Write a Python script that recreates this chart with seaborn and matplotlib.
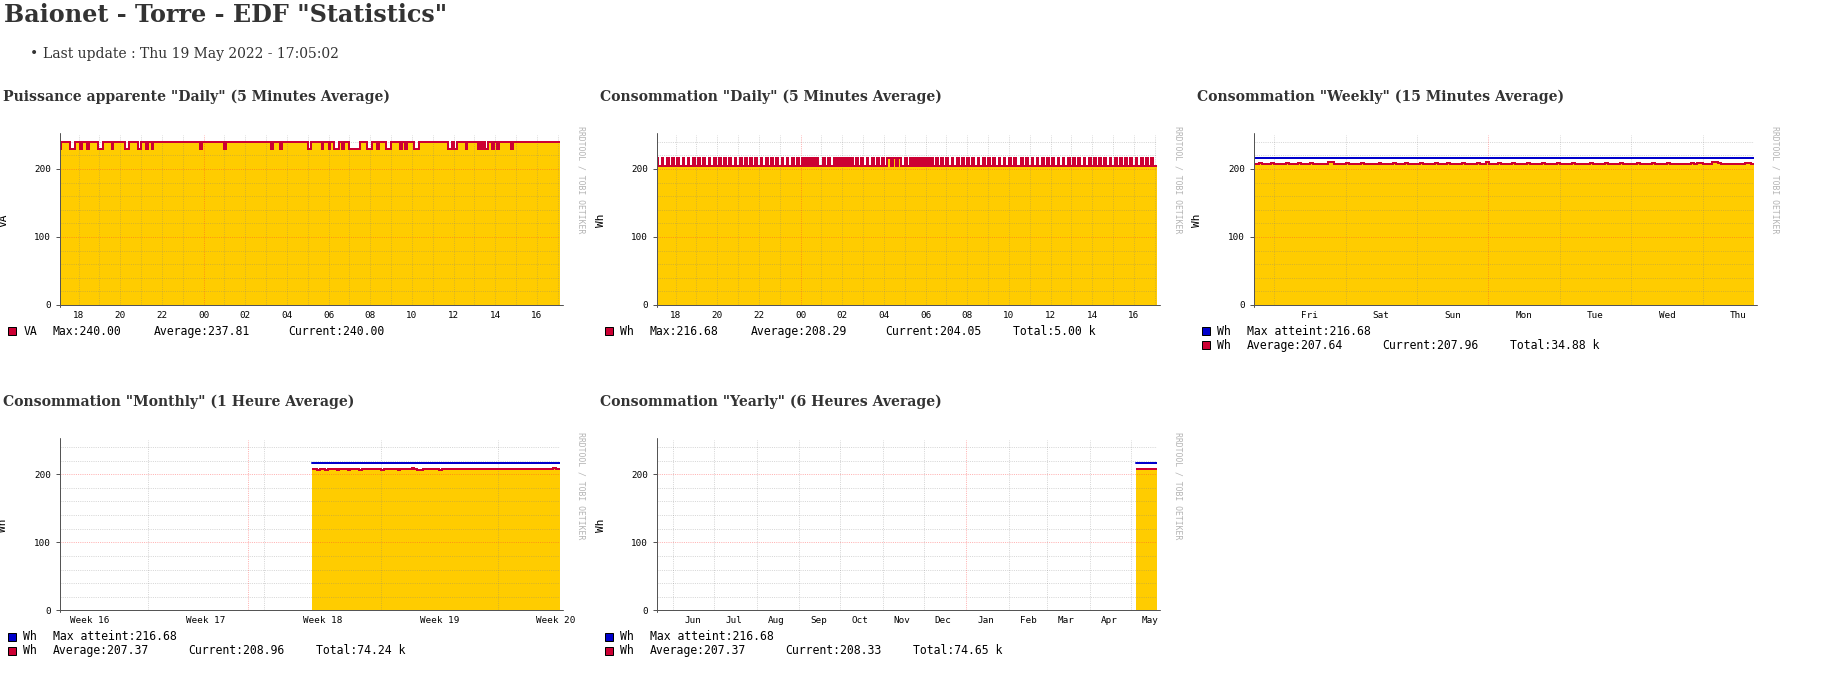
import matplotlib
matplotlib.use("Agg")
import matplotlib.pyplot as plt
import numpy as np
import pandas as pd
import seaborn as sns
from matplotlib.patches import Rectangle

sns.set_theme(style="white")
plt.rcParams["font.family"] = ["DejaVu Sans Mono", "DejaVu Sans"]

# ---------------------------------------------------------------- data
HEADER = 'Baionet - Torre - EDF "Statistics"'
UPDATE = "Last update : Thu 19 May 2022 - 17:05:02"
TITLES = ['Puissance apparente "Daily" (5 Minutes Average)',
          'Consommation "Daily" (5 Minutes Average)',
          'Consommation "Weekly" (15 Minutes Average)',
          'Consommation "Monthly" (1 Heure Average)',
          'Consommation "Yearly" (6 Heures Average)']

hour_labels = ["18", "20", "22", "00", "02", "04", "06", "08", "10", "12", "14", "16"]
day_labels = ["Fri", "Sat", "Sun", "Mon", "Tue", "Wed", "Thu"]
week_labels = ["Week 16", "Week 17", "Week 18", "Week 19", "Week 20"]
month_labels = ["Jun", "Jul", "Aug", "Sep", "Oct", "Nov", "Dec",
                "Jan", "Feb", "Mar", "Apr", "May"]

# apparent power, VA, 5-minute samples from 18 May 17:05
daily_va = [
    230, 240, 240, 240, 240, 240, 230, 230, 230, 240, 240, 240, 230, 240, 240, 240, 230, 240, 240, 240, 240, 240, 230, 230,
    230, 240, 240, 240, 240, 240, 230, 240, 240, 240, 240, 240, 240, 240, 230, 230, 240, 240, 240, 240, 240, 230, 230, 240,
    240, 240, 230, 240, 240, 230, 240, 240, 240, 240, 240, 240, 240, 240, 240, 240, 240, 240, 240, 240, 240, 240, 240, 240,
    240, 240, 240, 240, 240, 240, 240, 240, 240, 230, 240, 240, 240, 240, 240, 240, 240, 240, 240, 240, 240, 240, 240, 230,
    240, 240, 240, 240, 240, 240, 240, 240, 240, 240, 240, 240, 240, 240, 240, 240, 240, 240, 240, 240, 240, 240, 240, 240,
    240, 240, 230, 240, 240, 240, 240, 230, 240, 240, 240, 240, 240, 240, 240, 240, 240, 240, 240, 240, 240, 240, 240, 230,
    230, 240, 240, 240, 240, 240, 240, 230, 240, 240, 240, 230, 240, 240, 230, 230, 230, 240, 240, 230, 240, 240, 240, 230,
    230, 230, 230, 230, 230, 240, 240, 240, 240, 230, 230, 230, 240, 240, 240, 230, 240, 240, 240, 240, 230, 230, 230, 240,
    240, 240, 240, 240, 230, 240, 240, 230, 240, 240, 240, 240, 230, 230, 230, 240, 240, 240, 240, 240, 240, 240, 240, 240,
    240, 240, 240, 240, 240, 240, 240, 240, 230, 230, 240, 230, 230, 240, 240, 240, 240, 240, 230, 240, 240, 240, 240, 240,
    240, 230, 240, 230, 240, 230, 230, 240, 240, 230, 240, 240, 230, 240, 240, 240, 240, 240, 240, 240, 230, 240, 240, 240,
    240, 240, 240, 240, 240, 240, 240, 240, 240, 240, 240, 240, 240, 240, 240, 240, 240, 240, 240, 240, 240, 240, 240, 240,
]

# energy, Wh, 5-minute samples from 18 May 17:05
daily_wh = [
    216.7, 204.1, 204.1, 216.7, 204.1, 204.1, 216.7, 204.1, 204.1, 216.7, 204.1, 204.1, 216.7, 204.1, 204.1, 216.7, 204.1, 204.1, 216.7, 204.1, 204.1, 216.7, 204.1, 204.1,
    216.7, 204.1, 204.1, 216.7, 204.1, 204.1, 216.7, 204.1, 204.1, 216.7, 204.1, 204.1, 216.7, 204.1, 204.1, 216.7, 204.1, 204.1, 216.7, 204.1, 204.1, 216.7, 204.1, 204.1,
    216.7, 204.1, 204.1, 216.7, 204.1, 204.1, 216.7, 204.1, 204.1, 216.7, 204.1, 204.1, 216.7, 204.1, 204.1, 216.7, 204.1, 204.1, 216.7, 204.1, 204.1, 216.7, 204.1, 204.1,
    216.7, 204.1, 204.1, 216.7, 204.1, 204.1, 216.7, 204.1, 204.1, 216.7, 204.1, 204.1, 216.7, 204.1, 216.7, 204.1, 216.7, 204.1, 216.7, 204.1, 216.7, 204.1, 204.1, 204.1,
    216.7, 204.1, 204.1, 216.7, 204.1, 204.1, 216.7, 204.1, 216.7, 204.1, 216.7, 204.1, 216.7, 204.1, 216.7, 204.1, 216.7, 204.1, 204.1, 216.7, 204.1, 204.1, 216.7, 204.1,
    204.1, 216.7, 204.1, 204.1, 216.7, 204.1, 204.1, 216.7, 204.1, 204.1, 216.7, 204.1, 204.1, 216.7, 216.7, 204.1, 216.7, 216.7, 204.1, 216.7, 216.7, 204.1, 204.1, 216.7,
    204.1, 204.1, 216.7, 204.1, 216.7, 204.1, 216.7, 204.1, 216.7, 204.1, 216.7, 204.1, 216.7, 204.1, 216.7, 204.1, 204.1, 216.7, 204.1, 204.1, 216.7, 204.1, 204.1, 216.7,
    204.1, 204.1, 216.7, 204.1, 204.1, 216.7, 204.1, 204.1, 216.7, 204.1, 204.1, 216.7, 204.1, 204.1, 216.7, 204.1, 204.1, 216.7, 204.1, 204.1, 216.7, 204.1, 204.1, 216.7,
    204.1, 204.1, 216.7, 204.1, 204.1, 216.7, 204.1, 204.1, 216.7, 204.1, 204.1, 216.7, 204.1, 204.1, 216.7, 204.1, 204.1, 204.1, 216.7, 204.1, 204.1, 216.7, 204.1, 204.1,
    216.7, 204.1, 204.1, 216.7, 204.1, 204.1, 216.7, 204.1, 204.1, 216.7, 204.1, 204.1, 216.7, 204.1, 204.1, 216.7, 204.1, 204.1, 216.7, 204.1, 204.1, 216.7, 204.1, 204.1,
    216.7, 204.1, 204.1, 216.7, 204.1, 204.1, 216.7, 204.1, 204.1, 216.7, 204.1, 204.1, 216.7, 204.1, 204.1, 216.7, 204.1, 204.1, 216.7, 204.1, 204.1, 216.7, 204.1, 204.1,
    216.7, 204.1, 204.1, 216.7, 204.1, 204.1, 216.7, 204.1, 204.1, 216.7, 204.1, 204.1, 216.7, 204.1, 204.1, 216.7, 204.1, 204.1, 216.7, 204.1, 204.1, 216.7, 204.1, 204.1,
]

# weekly, hourly values from Thu 12 May 17:05
weekly_wh = [
    207.5, 207.5, 208.8, 207.5, 207.5, 207.5, 208.8, 207.5, 207.5, 207.5, 207.5, 208.8, 207.5, 207.5, 207.5, 208.8, 207.5, 207.5, 207.5, 208.8, 207.5, 207.5, 207.5, 207.5,
    207.5, 210.5, 210.0, 207.5, 207.5, 207.5, 207.5, 208.8, 207.5, 207.5, 207.5, 207.5, 208.8, 207.5, 207.5, 207.5, 207.5, 207.5, 208.8, 207.5, 207.5, 207.5, 207.5, 208.8,
    207.5, 207.5, 207.5, 208.8, 207.5, 207.5, 207.5, 207.5, 208.8, 207.5, 207.5, 207.5, 207.5, 208.8, 207.5, 207.5, 207.5, 208.8, 207.5, 207.5, 207.5, 207.5, 208.8, 207.5,
    207.5, 207.5, 207.5, 208.8, 207.5, 207.5, 210.0, 207.5, 207.5, 207.5, 208.8, 207.5, 207.5, 207.5, 207.5, 208.8, 207.5, 207.5, 207.5, 207.5, 208.8, 207.5, 207.5, 207.5,
    207.5, 208.8, 207.5, 207.5, 207.5, 207.5, 208.8, 207.5, 207.5, 207.5, 207.5, 208.8, 207.5, 207.5, 207.5, 207.5, 207.5, 208.8, 207.5, 207.5, 207.5, 207.5, 208.8, 207.5,
    207.5, 207.5, 207.5, 208.8, 207.5, 207.5, 207.5, 207.5, 207.5, 208.8, 207.5, 207.5, 207.5, 207.5, 208.8, 207.5, 207.5, 207.5, 207.5, 208.8, 207.5, 207.5, 207.5, 207.5,
    207.5, 207.5, 207.5, 209.2, 207.5, 209.5, 209.0, 207.5, 207.5, 207.5, 210.5, 210.5, 209.5, 207.5, 207.5, 207.5, 207.5, 207.5, 207.5, 207.5, 207.5, 209.5, 209.5, 208.0,
]

# monthly, 4-hour values from 4 May 20:00
monthly_wh = [
    208.5, 207.2, 206.2, 207.2, 207.2, 206.3,
    207.2, 207.2, 207.2, 206.4, 207.2, 207.2,
    207.2, 206.3, 207.2, 207.2, 207.3, 206.4,
    207.2, 207.2, 207.3, 207.2, 208.2, 207.2,
    207.2, 206.5, 207.2, 207.2, 208.0, 207.2,
    207.2, 206.4, 207.2, 207.2, 207.2, 208.3,
    209.0, 207.6, 206.4, 206.4, 207.2, 207.2,
    207.2, 207.2, 208.0, 207.2, 206.4, 207.2,
    207.2, 207.2, 207.2, 207.2, 207.3, 207.2,
    207.2, 207.2, 208.2, 207.2, 207.2, 207.2,
    207.2, 207.2, 207.2, 207.2, 207.2, 207.2,
    207.2, 207.2, 207.2, 207.2, 207.3, 207.2,
    207.2, 207.2, 207.2, 207.2, 207.2, 207.2,
    207.2, 207.2, 207.2, 207.2, 207.2, 207.2,
    207.2, 207.2, 208.2, 209.0, 207.6, 207.2,
]

# yearly, 6-hour values from 4 May 18:00
yearly_wh = [
    207.4, 207.3, 207.3, 207.4, 207.3, 207.4, 207.3, 207.3, 207.4, 207.3,
    207.3, 207.4, 207.3, 207.3, 207.4, 207.3, 207.4, 207.3, 207.3, 207.4,
    207.3, 207.3, 207.4, 207.3, 207.3, 207.4, 207.3, 207.4, 207.3, 207.3,
    207.4, 207.3, 207.3, 207.4, 207.3, 207.3, 207.4, 207.3, 207.4, 207.3,
    207.3, 207.4, 207.3, 207.3, 207.4, 207.3, 207.3, 207.4, 207.3, 207.4,
    207.3, 207.3, 207.4, 207.3, 207.3, 207.4, 207.3, 207.5, 207.6, 207.5,
]

max_wh = 216.68

legend_daily_va = [("#CC0033", "VA", [("Max:240.00", -6.7), ("Average:237.81", 93.9), ("Current:240.00", 228.9)])]
legend_daily_wh = [("#CC0033", "Wh", [("Max:216.68", -6.7), ("Average:208.29", 93.9), ("Current:204.05", 228.9), ("Total:5.00 k", 356.5)])]
legend_weekly = [("#0000CC", "Wh", [("Max atteint:216.68", -6.5)]),
                 ("#CC0033", "Wh", [("Average:207.64", -6.5), ("Current:207.96", 129.0), ("Total:34.88 k", 256.8)])]
legend_monthly = [("#0000CC", "Wh", [("Max atteint:216.68", -6.5)]),
                  ("#CC0033", "Wh", [("Average:207.37", -6.5), ("Current:208.96", 129.0), ("Total:74.24 k", 256.8)])]
legend_yearly = [("#0000CC", "Wh", [("Max atteint:216.68", -6.5)]),
                 ("#CC0033", "Wh", [("Average:207.37", -6.5), ("Current:208.33", 129.0), ("Total:74.65 k", 256.8)])]

# ---------------------------------------------------------------- style
W, H = 1826, 699
GOLD = "#FFCC00"
RED = "#CC0033"
BLUE = "#0000CC"
GRID = (0.5, 0.5, 0.5, 0.32)
MGRID = (1.0, 0.2, 0.2, 0.38)
AXIS = "#555555"
PX = 0.72  # one pixel in points at dpi 100

COL_X = [59.5, 656.5, 1253.5]
ROW_Y = [305.0, 610.3]
PW, PH = 500.0, 170.0

fig = plt.figure(figsize=(W / 100, H / 100), dpi=100)
fig.patch.set_facecolor("white")


def fx(x):
    return x / W


def fy(y):
    return 1 - y / H


def fit_width(txt, target):
    r = fig.canvas.get_renderer()
    bb = txt.get_window_extent(renderer=r)
    txt.set_fontsize(txt.get_fontsize() * target / bb.width)


serif = ["DejaVu Serif"]
h = fig.text(fx(3.8), fy(15.5), HEADER, family=serif, weight="bold", size=18,
             color="#333333", ha="left", va="center")
fit_width(h, 442)
fig.text(fx(34.4), fy(54), "\u2022", family=serif, size=10, color="#333333", ha="center", va="center")
u = fig.text(fx(43.2), fy(53.6), UPDATE, family=serif, size=11, color="#333333", ha="left", va="center")
fit_width(u, 297.4)

title_pos = [(3.3, 96.7, 387), (600, 96.7, 342), (1197, 96.7, 368), (3.3, 401.8, 351.5), (600, 401.8, 342)]
for (tx, ty, tw), tt in zip(title_pos, TITLES):
    t = fig.text(fx(tx), fy(ty), tt, family=serif, weight="bold", size=11, color="#333333",
                 ha="left", va="center")
    fit_width(t, tw)


def panel(col, row, times, vals, xlim, label_pos, labels, minor_pos, major_pos,
          ylabel, legend_rows, maxline=None):
    s, b = COL_X[col], ROW_Y[row]
    ax = fig.add_axes([fx(s), fy(b), PW / W, PH / H])
    ax.set_facecolor("white")
    df = pd.DataFrame({"t": times, "v": vals})
    ax.fill_between(df["t"], df["v"], 0, step="post", color=GOLD, lw=0, zorder=1)
    dots = (0, (1, 1.2))
    for y in range(20, 241, 20):
        ax.axhline(y, color=MGRID if y in (100, 200) else GRID, lw=PX, ls=dots, zorder=2)
    for x in minor_pos:
        ax.axvline(x, color=GRID, lw=PX, ls=dots, zorder=2)
    for x in major_pos:
        ax.axvline(x, color=MGRID, lw=PX, ls=dots, zorder=2)
    if maxline is not None:
        dm = pd.DataFrame({"t": times, "v": [maxline] * len(times)})
        sns.lineplot(data=dm, x="t", y="v", ax=ax, color=BLUE, lw=2 * PX, estimator=None,
                     drawstyle="steps-post", zorder=4)
    sns.lineplot(data=df, x="t", y="v", ax=ax, color=RED, lw=2 * PX, estimator=None,
                 drawstyle="steps-post", zorder=5, solid_joinstyle="miter", solid_capstyle="butt")
    ax.set_xlim(xlim)
    ax.set_ylim(0, 250)
    ax.set_xlabel("")
    ax.set_ylabel("")
    for sp in ax.spines.values():
        sp.set_visible(False)
    ax.plot([0, 0], [-0.012, 1.012], transform=ax.transAxes, color=AXIS, lw=PX, clip_on=False, zorder=6)
    ax.plot([-0.006, 1.006], [0, 0], transform=ax.transAxes, color=AXIS, lw=PX, clip_on=False, zorder=6)
    ax.set_yticks([0, 100, 200])
    ax.set_yticklabels(["0", "100", "200"])
    ax.set_xticks(label_pos)
    ax.set_xticklabels(labels)
    ax.tick_params(axis="y", length=3, width=PX, color=AXIS, pad=3.2, labelsize=6.7,
                   labelcolor="black", left=True)
    ax.tick_params(axis="x", length=0, pad=4.2, labelsize=6.7, labelcolor="black", bottom=True)
    ax.grid(False)
    # side texts
    fig.text(fx(s - 56), fy(b - 85), ylabel, size=8, rotation=90, ha="center", va="center", color="black")
    fig.text(fx(s + 521.2), fy(b - 125), "RRDTOOL / TOBI OETIKER", size=5.9, rotation=270,
             ha="center", va="center", color="#b4b4b4")
    for i, (colr, name, fields) in enumerate(legend_rows):
        yy = b + 26.3 + 14 * i
        fig.patches.append(Rectangle((fx(s - 51.2), fy(yy + 4)), 7.5 / W, 8 / H,
                                     transform=fig.transFigure, facecolor=colr,
                                     edgecolor="black", lw=PX))
        fig.text(fx(s - 36.2), fy(yy), name, size=8.3, ha="left", va="center", color="black")
        for txt, dx in fields:
            fig.text(fx(s + dx), fy(yy), txt, size=8.3, ha="left", va="center", color="black")
    return ax


def series(start, freq, vals, end):
    t = list(pd.date_range(start, periods=len(vals), freq=freq)) + [pd.Timestamp(end)]
    return t, list(vals) + [vals[-1]]


END = pd.Timestamp("2022-05-19 17:05")

# daily panels
d0 = pd.Timestamp("2022-05-18 17:05")
hour_ticks = list(pd.date_range("2022-05-18 18:00", periods=len(hour_labels), freq="2h"))
hours_all = pd.date_range("2022-05-18 18:00", "2022-05-19 17:00", freq="1h")
midnight = [pd.Timestamp("2022-05-19 00:00")]
hours_minor = [x for x in hours_all if x not in midnight]

t, v = series(d0, "5min", daily_va, END)
panel(0, 0, t, v, (d0, END), hour_ticks, hour_labels, hours_minor, midnight, "VA", legend_daily_va)
t, v = series(d0, "5min", daily_wh, END)
panel(1, 0, t, v, (d0, END), hour_ticks, hour_labels, hours_minor, midnight, "Wh", legend_daily_wh)

# weekly panel
w0 = pd.Timestamp("2022-05-12 17:05")
day_ticks = list(pd.date_range("2022-05-13 12:00", periods=len(day_labels), freq="1D"))
days_all = pd.date_range("2022-05-13", "2022-05-19", freq="1D")
week_start = [pd.Timestamp("2022-05-16")]
days_minor = [x for x in days_all if x not in week_start]
t, v = series(w0, "1h", weekly_wh, END)
panel(2, 0, t, v, (w0, END), day_ticks, day_labels, days_minor, week_start, "Wh", legend_weekly, max_wh)

# monthly panel
m0 = pd.Timestamp("2022-04-19 17:05")
wk_ticks = list(pd.date_range("2022-04-21 12:00", periods=len(week_labels), freq="7D"))
mondays = list(pd.date_range("2022-04-25", periods=4, freq="7D"))
month_start = [pd.Timestamp("2022-05-01")]
t, v = series("2022-05-04 20:00", "4h", monthly_wh, END)
panel(0, 1, t, v, (m0, END), wk_ticks, week_labels, mondays, month_start, "Wh", legend_monthly, max_wh)

# yearly panel
y0 = pd.Timestamp("2021-05-19 17:05")
mo_ticks = [d + pd.Timedelta(days=14) for d in pd.date_range("2021-06-01", periods=len(month_labels), freq="MS")]
month_all = pd.date_range("2021-06-01", "2022-05-01", freq="MS")
year_start = [pd.Timestamp("2022-01-01")]
month_minor = [x for x in month_all if x not in year_start]
t, v = series("2022-05-04 18:00", "6h", yearly_wh, END)
panel(1, 1, t, v, (y0, END), mo_ticks, month_labels, month_minor, year_start, "Wh", legend_yearly, max_wh)

fig.savefig("out.png", dpi=100, facecolor="white")
